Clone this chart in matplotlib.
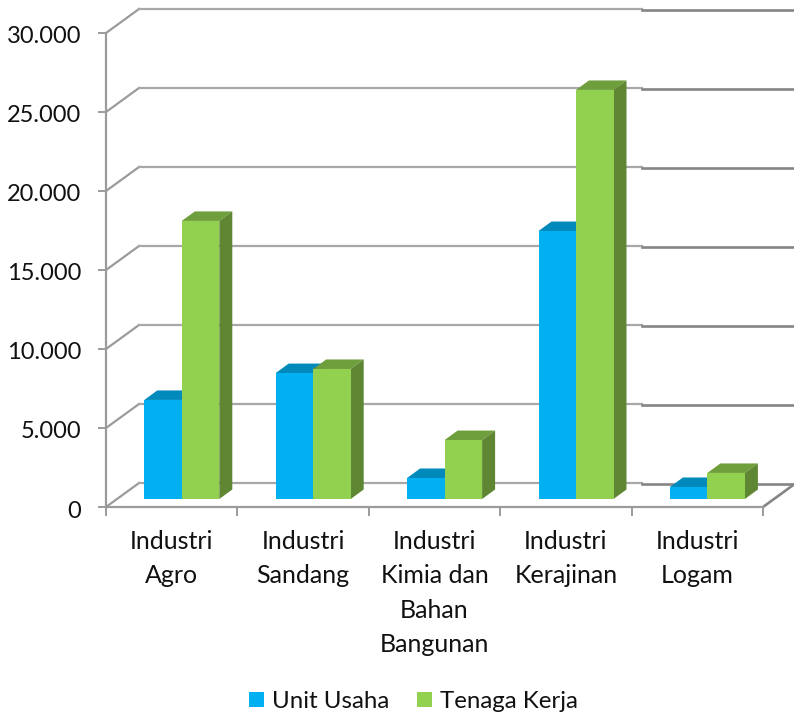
import matplotlib
matplotlib.use("Agg")
import matplotlib.pyplot as plt
from matplotlib.patches import Polygon
from matplotlib.transforms import ScaledTranslation

categories = ["Industri\nAgro", "Industri\nSandang", "Industri\nKimia dan\nBahan\nBangunan",
              "Industri\nKerajinan", "Industri\nLogam"]
unit_usaha = [6270, 7970, 1330, 16960, 760]
tenaga_kerja = [17600, 8230, 3730, 25890, 1650]
y_ticks = [0, 5000, 10000, 15000, 20000, 25000, 30000]
y_labels = ["0", "5.000", "10.000", "15.000", "20.000", "25.000", "30.000"]

W, H = 794, 716
LEFT, RIGHT, BASE, TOP = 106, 763, 507, 33

plt.rcParams['font.family'] = ['Lato', 'DejaVu Sans']
plt.rcParams['font.size'] = 17

fig = plt.figure(figsize=(W / 100, H / 100), dpi=100)
ax = fig.add_axes([LEFT / W, 1 - BASE / H, (RIGHT - LEFT) / W, (BASE - TOP) / H])
ax.set_xlim(0, 5)
ax.set_ylim(0, 30000)

# pixel sizes -> data units
px_x = 5 / (RIGHT - LEFT)
px_y = 30000 / (BASE - TOP)
wall_dx, wall_dy = 33 * px_x, 24 * px_y
front_dx, front_dy = 11 * px_x, 8 * px_y
bar_dx, bar_dy = 13 * px_x, 9.5 * px_y
bar_w = 37.5 * px_x
gap = 27.3 * px_x

grid_c = "#9b9b9b"
dark_c = "#858585"
split = 3.83 + wall_dx

for v in y_ticks:
    ax.plot([0, wall_dx], [v, v + wall_dy], color=grid_c, lw=1.6, zorder=1, clip_on=False)
    ax.plot([wall_dx, split], [v + wall_dy] * 2, color="#a8a8a8", lw=1.6, zorder=1, clip_on=False)
    ax.plot([split, 5 + wall_dx], [v + wall_dy - 1 * px_y] * 2, color=dark_c, lw=1.9, zorder=1, clip_on=False)
ax.plot([5, 5 + wall_dx], [0, wall_dy], color=dark_c, lw=1.9, zorder=1, clip_on=False)

x = [i + front_dx + gap for i in range(5)]
x2 = [p + bar_w for p in x]


def depth_faces(xs, vals, top_c, side_c, zo):
    for p, v in zip(xs, vals):
        y0 = front_dy
        y1 = front_dy + v
        ax.add_patch(Polygon([(p, y1), (p + bar_w, y1), (p + bar_w + bar_dx, y1 + bar_dy), (p + bar_dx, y1 + bar_dy)],
                             fc=top_c, ec="none", zorder=zo, clip_on=False))
        ax.add_patch(Polygon([(p + bar_w, y0), (p + bar_w + bar_dx, y0 + bar_dy), (p + bar_w + bar_dx, y1 + bar_dy), (p + bar_w, y1)],
                             fc=side_c, ec="none", zorder=zo, clip_on=False))


depth_faces(x, unit_usaha, "#0089bb", "#0089bb", 2)
b1 = ax.bar(x, unit_usaha, bar_w, bottom=front_dy, align="edge", color="#00b0f0", zorder=3, label="Unit Usaha")
depth_faces(x2, tenaga_kerja, "#6f9e3c", "#5f8632", 4)
b2 = ax.bar(x2, tenaga_kerja, bar_w, bottom=front_dy, align="edge", color="#92d050", zorder=5, label="Tenaga Kerja")

for s in ["top", "right"]:
    ax.spines[s].set_visible(False)
for s in ["left", "bottom"]:
    ax.spines[s].set_color(grid_c)
    ax.spines[s].set_linewidth(1.6)
    ax.spines[s].set_zorder(6)

ax.set_yticks(y_ticks)
ax.set_yticklabels(y_labels)
ax.set_xticks(range(6))
ax.set_xticklabels([])
ax.set_xticks([i + 0.5 for i in range(5)], minor=True)
ax.set_xticklabels(categories, minor=True, linespacing=1.6, color="#111111", fontsize=18)
ax.tick_params(axis="y", length=5.8, width=1.4, color=grid_c, pad=12, labelcolor="#111111")
ax.tick_params(axis="x", which="major", length=6.5, width=1.4, color=grid_c)
ax.tick_params(axis="x", which="minor", length=0, pad=16.5)

# labels sit a little lower than matplotlib centres them
shift = ScaledTranslation(0, -2 / 100, fig.dpi_scale_trans)
for lab in ax.get_yticklabels():
    lab.set_transform(lab.get_transform() + shift)

fig.legend(handles=[b1, b2], loc="center", bbox_to_anchor=(413.5 / W, 1 - 701.5 / H), ncol=2, frameon=False,
           handlelength=0.64, handleheight=0.64, handletextpad=0.32, columnspacing=1.15,
           labelcolor="#111111", borderpad=0, borderaxespad=0, prop={"size": 17.3})

fig.savefig("out.png", dpi=100)
